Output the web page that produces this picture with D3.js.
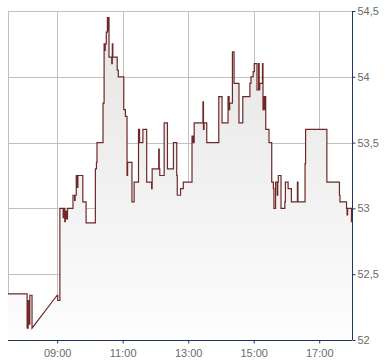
<!DOCTYPE html>
<html>
<head>
<meta charset="utf-8">
<script src="https://cdn.jsdelivr.net/npm/d3@7"></script>
<style>
  body { margin: 0; background: #fff; }
  svg { display: block; font-family: "Liberation Sans", Arial, sans-serif; }
</style>
</head>
<body>
<div id="chart"></div>
<script>
// trades: time, price (step after); linearAt = points joined by a straight line
const times = ['07:30', '08:05', '08:07', '08:08', '08:10', '08:14', '09:00', '09:01', '09:05', '09:11',
    '09:12', '09:14', '09:15', '09:17', '09:19', '09:29', '09:32', '09:33', '09:35', '09:37',
    '09:38', '09:47', '09:53', '10:10', '10:12', '10:13', '10:24', '10:26', '10:27', '10:28',
    '10:30', '10:32', '10:33', '10:34', '10:35', '10:40', '10:41', '10:42', '10:50', '10:52',
    '11:02', '11:05', '11:08', '11:09', '11:17', '11:21', '11:29', '11:31', '11:37', '11:44',
    '11:53', '11:54', '12:06', '12:07', '12:08', '12:16', '12:22', '12:33', '12:39', '12:40',
    '12:46', '12:51', '13:07', '13:09', '13:11', '13:27', '13:28', '13:29', '13:34', '13:56',
    '14:02', '14:13', '14:15', '14:16', '14:21', '14:24', '14:33', '14:40', '14:53', '14:55',
    '14:59', '15:01', '15:06', '15:09', '15:10', '15:11', '15:16', '15:17', '15:19', '15:20',
    '15:21', '15:22', '15:28', '15:33', '15:36', '15:37', '15:40', '15:43', '15:44', '15:45',
    '15:50', '15:57', '15:58', '16:03', '16:09', '16:20', '16:21', '16:34', '16:35', '17:14',
    '17:37', '17:38', '17:50', '17:51', '17:52', '17:59', '18:00'];
const prices = [52.35, 52.09, 52.30, 52.12, 52.34, 52.09, 52.34, 52.30, 53.00, 52.93,
    53.00, 52.90, 52.98, 52.92, 53.00, 53.10, 53.06, 53.10, 53.25, 53.16,
    53.25, 53.05, 52.89, 53.30, 53.35, 53.50, 53.80, 54.25, 54.20, 54.25,
    54.34, 54.45, 54.35, 54.45, 54.15, 54.10, 54.25, 54.15, 54.05, 54.00,
    53.75, 53.70, 53.25, 53.35, 53.05, 53.20, 53.60, 53.50, 53.60, 53.20,
    53.15, 53.30, 53.45, 53.30, 53.25, 53.65, 53.30, 53.50, 53.25, 53.10,
    53.15, 53.20, 53.55, 53.50, 53.65, 53.81, 53.60, 53.65, 53.50, 53.85,
    53.65, 53.85, 53.75, 53.80, 54.19, 53.95, 53.65, 53.85, 53.95, 54.00,
    54.04, 54.10, 53.90, 54.10, 53.90, 53.95, 54.10, 53.75, 53.85, 53.75,
    53.85, 53.60, 53.50, 53.20, 53.15, 53.00, 53.20, 53.10, 53.20, 53.25,
    53.00, 53.05, 53.20, 53.15, 53.05, 53.20, 53.05, 53.34, 53.60, 53.20,
    53.10, 53.05, 53.00, 52.95, 53.00, 52.90, 52.90];
const linearAt = ['09:00'];

const yTicks = [52, 52.5, 53, 53.5, 54, 54.5];
const xTicks = ['09:00', '11:00', '13:00', '15:00', '17:00'];

const w = 390;
const h = 364;
const mLeft = 8, mRight = 352, mTop = 11, mBottom = 340;

const parse = d3.timeParse('%H:%M');

const data = times.map((t, i) => ({ t: parse(t), v: prices[i], lin: linearAt.includes(t) }));

const x = d3.scaleTime()
    .domain([parse('07:30'), parse('18:00')])
    .range([mLeft, mRight]);
const y = d3.scaleLinear()
    .domain([52, 54.5])
    .range([mBottom, mTop]);

// expand to step points
const pts = [];
data.forEach((d, i) => {
    if (i > 0 && !d.lin) pts.push({ t: d.t, v: data[i - 1].v });
    pts.push(d);
});

const svg = d3.select('#chart')
    .append('svg')
    .attr('width', w)
    .attr('height', h);

const grad = svg.append('defs')
    .append('linearGradient')
    .attr('id', 'fill')
    .attr('gradientUnits', 'userSpaceOnUse')
    .attr('x1', 0).attr('x2', 0)
    .attr('y1', mTop).attr('y2', mBottom);
grad.append('stop').attr('offset', 0).attr('stop-color', '#e4e4e4');
grad.append('stop').attr('offset', 1).attr('stop-color', '#fdfdfd');

// grid
svg.append('g')
    .selectAll('line')
    .data(yTicks)
    .join('line')
    .attr('x1', mLeft).attr('x2', mRight)
    .attr('y1', d => Math.round(y(d)) + 0.5).attr('y2', d => Math.round(y(d)) + 0.5)
    .attr('stroke', '#c0c0c0');
svg.append('g')
    .selectAll('line')
    .data([parse('07:30')].concat(xTicks.map(parse)))
    .join('line')
    .attr('x1', d => Math.round(x(d)) + 0.5).attr('x2', d => Math.round(x(d)) + 0.5)
    .attr('y1', mTop).attr('y2', mBottom)
    .attr('stroke', '#c0c0c0');

const area = d3.area()
    .x(d => x(d.t))
    .y0(mBottom)
    .y1(d => y(d.v));
const line = d3.line()
    .x(d => x(d.t))
    .y(d => y(d.v));

svg.append('path')
    .datum(pts)
    .attr('d', area)
    .attr('fill', 'url(#fill)');
svg.append('path')
    .datum(pts)
    .attr('d', line)
    .attr('fill', 'none')
    .attr('stroke', '#6e2828')
    .attr('stroke-width', 1.2);

// axes
const yAxis = d3.axisRight(y)
    .tickValues(yTicks)
    .tickSize(3)
    .tickPadding(2)
    .tickFormat(d => String(d).replace('.', ','));
const xAxis = d3.axisBottom(x)
    .tickValues(xTicks.map(parse))
    .tickSize(3)
    .tickPadding(6)
    .tickFormat(d3.timeFormat('%H:%M'));

const gx = svg.append('g')
    .attr('transform', 'translate(0,' + (mBottom + 0.5) + ')')
    .call(xAxis);
const gy = svg.append('g')
    .attr('transform', 'translate(' + (mRight + 0.5) + ',0)')
    .call(yAxis);

[gx, gy].forEach(g => {
    g.select('.domain').attr('stroke', '#1f3563');
    g.selectAll('.tick line').attr('stroke', '#1f3563');
    g.selectAll('.tick text')
        .attr('fill', '#6a6a6a')
        .style('font-size', '11px')
        .style('font-family', '"Liberation Sans", Arial, sans-serif');
});
gx.select('.domain').attr('d', 'M' + mLeft + ',0H' + mRight);
gy.select('.domain').attr('d', 'M0,' + mTop + 'V' + mBottom);
</script>
</body>
</html>
